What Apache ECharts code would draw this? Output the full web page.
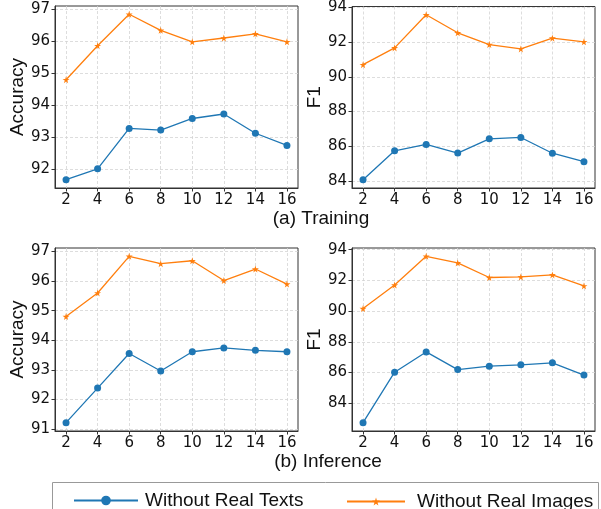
<!DOCTYPE html>
<html>
<head>
<meta charset="utf-8">
<script src="https://cdn.jsdelivr.net/npm/echarts@6/dist/echarts.min.js"></script>
<style>
  html, body { margin: 0; padding: 0; background: #fff; }
  #main { width: 601px; height: 509px; }
</style>
</head>
<body>
<div id="main"></div>
<script>
// x positions (number of ...)
var xVals = [2, 4, 6, 8, 10, 12, 14, 16];

// (a) Training
var trainAccTexts  = [91.67, 92.01, 93.27, 93.22, 93.58, 93.72, 93.12, 92.74];
var trainAccImages = [94.79, 95.85, 96.83, 96.33, 95.97, 96.09, 96.22, 95.97];
var trainF1Texts   = [84.06, 85.73, 86.10, 85.60, 86.42, 86.50, 85.59, 85.10];
var trainF1Images  = [90.70, 91.67, 93.58, 92.54, 91.86, 91.61, 92.23, 92.02];

// (b) Inference
var infAccTexts  = [91.21, 92.38, 93.55, 92.96, 93.61, 93.74, 93.66, 93.61];
var infAccImages = [94.80, 95.60, 96.84, 96.59, 96.69, 96.02, 96.41, 95.90];
var infF1Texts   = [82.73, 86.02, 87.34, 86.19, 86.41, 86.50, 86.63, 85.83];
var infF1Images  = [90.17, 91.70, 93.57, 93.14, 92.19, 92.23, 92.36, 91.64];

// tick labels
var xTicks = [2, 4, 6, 8, 10, 12, 14, 16];
var trainAccTicks = [92, 93, 94, 95, 96, 97];
var trainF1Ticks = [84, 86, 88, 90, 92, 94];
var infAccTicks = [91, 92, 93, 94, 95, 96, 97];
var infF1Ticks = [84, 86, 88, 90, 92, 94];

var nameTexts = 'Without Real Texts';
var nameImages = 'Without Real Images';

var BLUE = '#1f77b4', ORANGE = '#ff7f0e';
var STAR = 'path://M50,0 L61,35 L98,35 L68,57 L79,91 L50,70 L21,91 L32,57 L2,35 L39,35 Z';
var TICK_FONT = 'DejaVu Sans';
var LABEL_FONT = 'Liberation Sans';

// matplotlib-like 5% autoscale margins
function lim(arrs) {
  var all = [].concat.apply([], arrs);
  var lo = Math.min.apply(null, all), hi = Math.max.apply(null, all);
  var m = (hi - lo) * 0.05;
  return [lo - m, hi + m];
}
function pts(vals) {
  return xVals.map(function (x, i) { return [x, vals[i]]; });
}

var grids = [
  { left: 55, top: 6, width: 243, height: 182 },
  { left: 352, top: 6, width: 243, height: 182 },
  { left: 55, top: 248, width: 243, height: 183 },
  { left: 352, top: 248, width: 243, height: 183 }
];
grids.forEach(function (g) {
  g.show = true; g.borderColor = '#333'; g.borderWidth = 1; g.backgroundColor = 'transparent';
});

var panels = [
  { name: 'Accuracy', gap: 28, ticks: trainAccTicks, a: trainAccTexts, b: trainAccImages },
  { name: 'F1', gap: 24, ticks: trainF1Ticks, a: trainF1Texts, b: trainF1Images },
  { name: 'Accuracy', gap: 28, ticks: infAccTicks, a: infAccTexts, b: infAccImages },
  { name: 'F1', gap: 24, ticks: infF1Ticks, a: infF1Texts, b: infF1Images }
];

var xLim = lim([xVals]);
var gridLine = { show: true, lineStyle: { color: '#d4d4d4', width: 0.8, type: [3, 2] } };

var xAxes = [], yAxes = [], series = [];
panels.forEach(function (p, i) {
  var yl = lim([p.a, p.b]);
  xAxes.push({
    type: 'value', gridIndex: i, min: xLim[0], max: xLim[1],
    axisLine: { show: true, onZero: false, lineStyle: { color: '#333', width: 1 } },
    axisTick: { show: true, length: 3.5, customValues: xTicks, lineStyle: { color: '#333' } },
    axisLabel: { customValues: xTicks, margin: 5, fontFamily: TICK_FONT, fontSize: 15, color: '#111' },
    splitLine: gridLine
  });
  yAxes.push({
    type: 'value', gridIndex: i, min: yl[0], max: yl[1],
    name: p.name, nameLocation: 'middle', nameRotate: 90, nameGap: p.gap,
    nameTextStyle: { fontFamily: LABEL_FONT, fontSize: 19, color: '#111' },
    axisLine: { show: true, onZero: false, lineStyle: { color: '#333', width: 1 } },
    axisTick: { show: true, length: 3.5, customValues: p.ticks, lineStyle: { color: '#333' } },
    axisLabel: { customValues: p.ticks, margin: 5, fontFamily: TICK_FONT, fontSize: 15, color: '#111' },
    splitLine: gridLine
  });
  series.push({
    name: nameTexts, type: 'line', xAxisIndex: i, yAxisIndex: i, data: pts(p.a),
    symbol: 'circle', symbolSize: 7, color: BLUE,
    lineStyle: { width: 1.3, color: BLUE }, itemStyle: { color: BLUE }, animation: false
  });
  series.push({
    name: nameImages, type: 'line', xAxisIndex: i, yAxisIndex: i, data: pts(p.b),
    symbol: STAR, symbolSize: 7, color: ORANGE,
    lineStyle: { width: 1.3, color: ORANGE }, itemStyle: { color: ORANGE }, animation: false
  });
});

var chart = echarts.init(document.getElementById('main'), null, { renderer: 'canvas' });
chart.setOption({
  animation: false,
  grid: grids,
  xAxis: xAxes,
  yAxis: yAxes,
  series: series,
  legend: [
    {
      data: [nameTexts], left: 68, top: 486, itemWidth: 64, itemHeight: 12,
      lineStyle: { width: 2 }, selectedMode: false,
      textStyle: { fontFamily: LABEL_FONT, fontSize: 19, color: '#111', padding: [0, 0, 0, 2] }
    },
    {
      data: [nameImages], left: 341, top: 487, itemWidth: 58, itemHeight: 10,
      lineStyle: { width: 2 }, selectedMode: false,
      textStyle: { fontFamily: LABEL_FONT, fontSize: 19, color: '#111', padding: [0, 0, 0, 7] }
    }
  ],
  graphic: [
    { type: 'rect', shape: { x: 52.5, y: 482.5, width: 546, height: 40 },
      style: { fill: 'none', stroke: '#999', lineWidth: 1 }, z: -1 },
    { type: 'text', x: 321, y: 219, style: { text: '(a) Training', font: '19px "Liberation Sans"',
      fill: '#111', textAlign: 'center', textVerticalAlign: 'middle' } },
    { type: 'text', x: 328, y: 462, style: { text: '(b) Inference', font: '19px "Liberation Sans"',
      fill: '#111', textAlign: 'center', textVerticalAlign: 'middle' } }
  ]
});
</script>
</body>
</html>
